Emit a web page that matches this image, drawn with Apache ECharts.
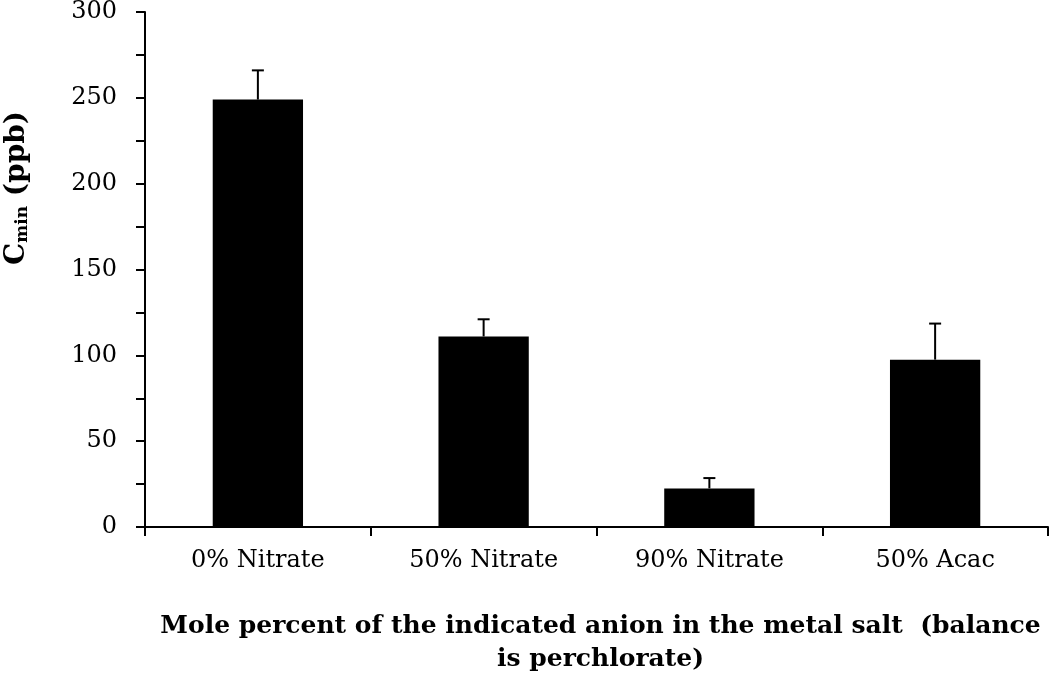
<!DOCTYPE html>
<html>
<head>
<meta charset="utf-8">
<script src="https://cdn.jsdelivr.net/npm/echarts@6/dist/echarts.min.js"></script>
<style>html,body{margin:0;padding:0;background:#fff;}#chart{width:1050px;height:681px;}</style>
</head>
<body>
<div id="chart"></div>
<script>
const categories = ['0% Nitrate', '50% Nitrate', '90% Nitrate', '50% Acac'];
const values = [249, 111, 22.5, 97.5];
const errorTops = [266, 121, 28.5, 118.5];
const yTicks = [0, 50, 100, 150, 200, 250, 300];

const chart = echarts.init(document.getElementById('chart'));
const serif = 'DejaVu Serif';
chart.setOption({
  animation: false,
  backgroundColor: '#fff',
  grid: { left: 145, right: 2, top: 11, bottom: 150, containLabel: false },
  xAxis: {
    type: 'category',
    data: categories,
    axisLine: { lineStyle: { color: '#000', width: 2 } },
    axisTick: { show: true, length: 9, lineStyle: { color: '#000', width: 2 } },
    axisLabel: { color: '#000', fontFamily: serif, fontSize: 24, margin: 22 },
    name: 'Mole percent of the indicated anion in the metal salt  (balance\nis perchlorate)',
    nameLocation: 'middle',
    nameGap: 83,
    nameTextStyle: { color: '#000', fontFamily: serif, fontWeight: 'bold', fontSize: 25, lineHeight: 33, verticalAlign: 'top', padding: [0, 0, 0, 8] }
  },
  yAxis: {
    type: 'value',
    min: yTicks[0],
    max: yTicks[yTicks.length - 1],
    interval: yTicks[1] - yTicks[0],
    axisLine: { show: true, lineStyle: { color: '#000', width: 2 } },
    axisTick: { show: true, length: 9, lineStyle: { color: '#000', width: 2 } },
    minorTick: { show: true, splitNumber: 2, length: 9, lineStyle: { color: '#000', width: 2 } },
    splitLine: { show: false },
    axisLabel: { color: '#000', fontFamily: serif, fontSize: 24, margin: 28 }
  },
  graphic: [{
    type: 'text',
    x: 17, y: 188,
    rotation: Math.PI / 2,
    style: {
      text: '{c|C}{s|min}{c| (ppb)}',
      align: 'center',
      verticalAlign: 'middle',
      rich: {
        c: { fontFamily: serif, fontWeight: 'bold', fontSize: 28, fill: '#000' },
        s: { fontFamily: serif, fontWeight: 'bold', fontSize: 17, fill: '#000', verticalAlign: 'bottom', padding: [11, 0, 0, 0] }
      }
    }
  }],
  series: [{
    type: 'bar',
    data: values,
    barWidth: '40%',
    itemStyle: { color: '#000' },
    z: 2
  }, {
    type: 'custom',
    data: categories.map((c, i) => [i, values[i], errorTops[i]]),
    z: 3,
    renderItem: function (params, api) {
      const p0 = api.coord([api.value(0), api.value(1)]);
      const p1 = api.coord([api.value(0), api.value(2)]);
      const hw = 6;
      return {
        type: 'group',
        children: [
          { type: 'line', shape: { x1: p0[0], y1: p0[1], x2: p1[0], y2: p1[1] }, style: { stroke: '#000', lineWidth: 2 } },
          { type: 'line', shape: { x1: p1[0] - hw, y1: p1[1], x2: p1[0] + hw, y2: p1[1] }, style: { stroke: '#000', lineWidth: 2 } }
        ]
      };
    }
  }]
});
</script>
</body>
</html>
